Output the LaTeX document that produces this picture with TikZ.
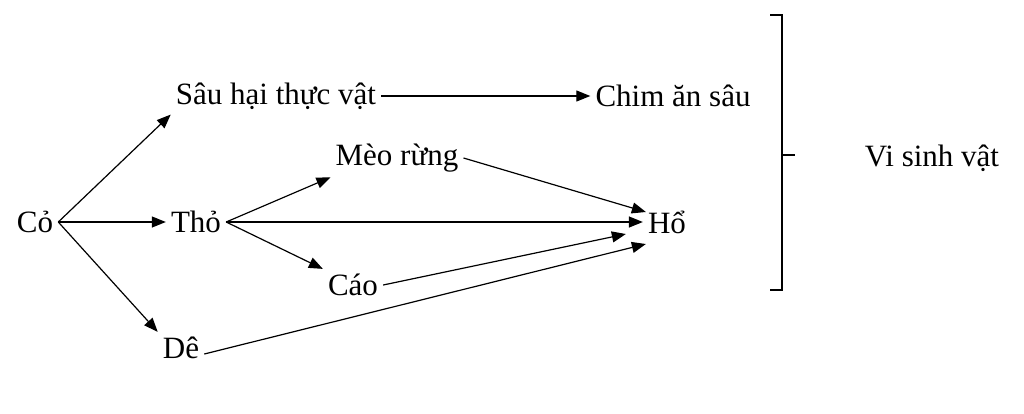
\documentclass[tikz,border=0pt]{standalone}
\usepackage{fontspec}
\setmainfont{Liberation Serif}
\usetikzlibrary{arrows.meta}
\begin{document}
\begin{tikzpicture}[x=1pt,y=-1pt,
  lbl/.style={font=\fontsize{31}{34}\selectfont,inner sep=5pt},
  arr/.style={-{Triangle[length=14pt,width=11pt]},line width=1.2pt}]
\useasboundingbox (0,0) rectangle (1024,413);
\node[lbl] (co) at (35,222) {Cỏ};
\node[lbl] (sau) at (276,96) {Sâu hại thực vật};
\node[lbl] (chim) at (673,96) {Chim ăn sâu};
\node[lbl] (meo) at (397,158) {Mèo rừng};
\node[lbl] (tho) at (196,222) {Thỏ};
\node[lbl] (ho) at (667,222) {Hổ};
\node[lbl] (cao) at (353,285) {Cáo};
\node[lbl] (de) at (181,348) {Dê};
\node[lbl] (vsv) at (932,158) {Vi sinh vật};
\coordinate (b1) at (770,15);
\coordinate (b2) at (782,15);
\coordinate (b3) at (782,290);
\coordinate (b4) at (770,290);
\coordinate (bm) at (782,155);
\coordinate (bt) at (795,155);
\draw[line width=1.2pt] (b1)--(b2)--(b3)--(b4);
\draw[line width=1.2pt] (bm)--(bt);
\draw[arr] (co.east) -- (sau.south west);
\draw[arr] (co.east) -- (tho.west);
\draw[arr] (co.east) -- (de.north west);
\draw[arr] (sau.east) -- (chim.west);
\draw[arr] (tho.east) -- (meo.south west);
\draw[arr] (tho.east) -- (ho.west);
\draw[arr] (tho.east) -- (cao.north west);
\draw[arr] (meo.east) -- ([yshift=10pt,xshift=3pt]ho.west);
\draw[arr] (cao.east) -- ([xshift=-17pt,yshift=-12pt]ho.west);
\draw[arr] ([yshift=-6pt]de.east) -- ([yshift=-22pt,xshift=3pt]ho.west);
\end{tikzpicture}
\end{document}
